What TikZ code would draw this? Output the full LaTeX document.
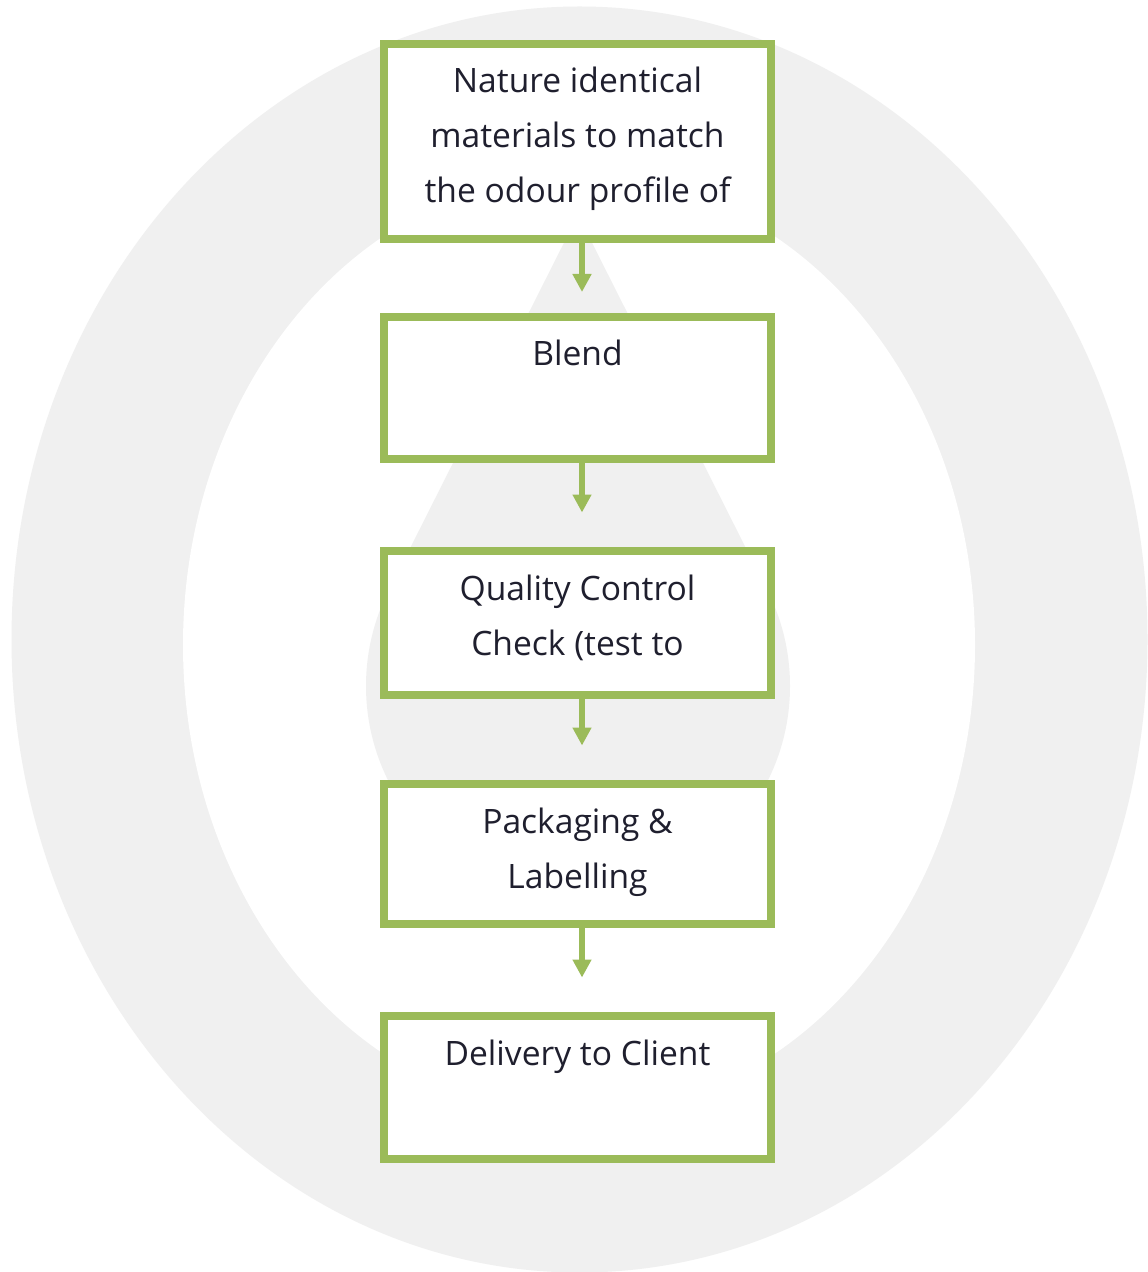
\documentclass[tikz,border=0pt]{standalone}
\usepackage{fontspec}
\setmainfont{Open Sans}
\usetikzlibrary{arrows.meta,positioning}
\definecolor{stepgreen}{HTML}{9BBB59}
\definecolor{ringgrey}{HTML}{F0F0F0}
\definecolor{stepink}{HTML}{1F1F2E}
\newcommand{\boxtext}[2]{\parbox[c][#1][t]{185pt}{\vspace*{5.25pt}\centering\strut#2}}

\begin{document}
\begin{tikzpicture}[
    x=0.5pt, y=-0.5pt,
    font=\fontsize{16.8}{27.5}\selectfont,
    stepbox/.style={draw=stepgreen, line width=4pt, fill=white, text=stepink,
        inner sep=0pt, minimum width=193.5pt, minimum height=#1},
    stepbox/.default=71pt,
    flow/.style={draw=stepgreen, line width=3.2pt, -{Triangle[width=9pt,length=9pt]}}]

\useasboundingbox (0,0) rectangle (1147,1272);
\fill[white] (0,0) rectangle (1147,1272);
\fill[ringgrey] (579.5,639.5) ellipse[x radius=284pt, y radius=316.5pt];
\fill[white] (579,645) ellipse[x radius=198pt, y radius=235pt];
\fill[ringgrey] (578,686) circle[radius=106pt];
\fill[ringgrey] (578,215) -- (767.3,590.6) -- (388.7,590.6) -- cycle;

\node[stepbox=97.5pt, anchor=north] (b1) at (577.5,40)
    {\boxtext{97.5pt}{Nature identical\\materials to match\\the odour profile of}};
\node[stepbox=71pt, below=35pt of b1] (b2) {\boxtext{71pt}{Blend}};
\node[stepbox=72pt, below=42pt of b2] (b3) {\boxtext{72pt}{Quality Control\\Check (test to}};
\node[stepbox=70pt, below=40.5pt of b3] (b4) {\boxtext{70pt}{Packaging \&\\Labelling}};
\node[stepbox=71.5pt, below=42pt of b4] (b5) {\boxtext{71.5pt}{Delivery to Client}};

\draw[flow, shorten >=10.5pt] ([xshift=2.25pt]b1.south) -- ([xshift=2.25pt]b2.north);
\foreach \a/\b in {b2/b3,b3/b4,b4/b5}
    \draw[flow, shorten >=17.25pt] ([xshift=2.25pt]\a.south) -- ([xshift=2.25pt]\b.north);

\end{tikzpicture}
\end{document}
